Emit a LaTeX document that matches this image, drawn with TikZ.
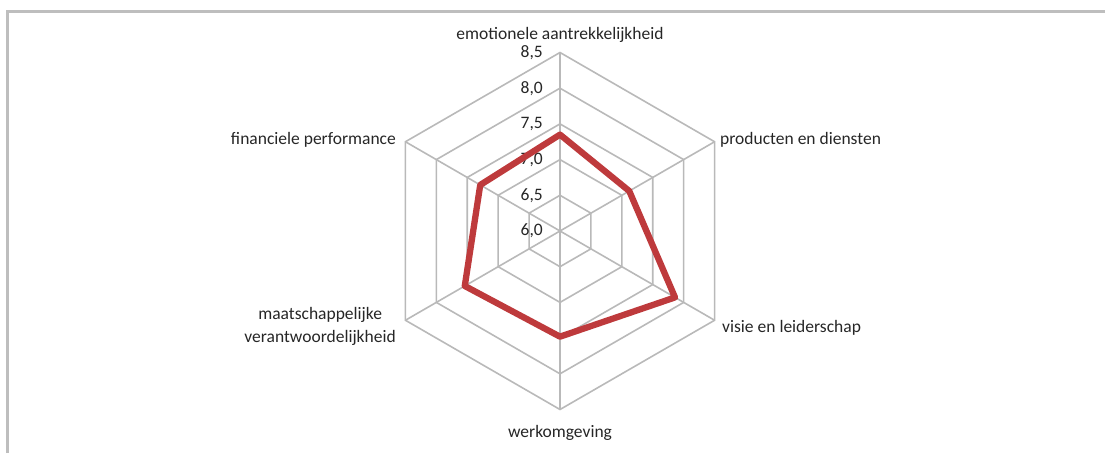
\documentclass[tikz,border=0pt]{standalone}
\usepackage{fontspec}
\setmainfont{Carlito}
\usetikzlibrary{positioning}

\definecolor{gridgray}{RGB}{185,185,185}
\definecolor{framegray}{RGB}{190,190,190}
\definecolor{datared}{RGB}{190,58,60}

\begin{document}
\begin{tikzpicture}[x=1pt,y=1pt,
	gridline/.style={draw=gridgray,line width=1.6pt},
	dataline/.style={draw=datared,line width=6.3pt,line join=round},
	axislabel/.style={font=\fontsize{17.5}{23}\selectfont,text=black!85,inner sep=0pt},
	ticklabel/.style={font=\fontsize{17.5}{21}\selectfont,text=black!85,inner sep=0pt,anchor=east}]
		\useasboundingbox (0,0) rectangle (1105,453);
		\draw[framegray,line width=3pt] (7.5,0) -- (7.5,441.5) -- (1105,441.5);

		\begin{scope}[shift={(560,222)}]
		\coordinate (c) at (0,0);
		% grid
		\foreach \r in {35.7,71.4,107.1,142.8,178.5}
			\draw[gridline] (90:\r) -- (30:\r) -- (-30:\r) -- (-90:\r) -- (-150:\r) -- (150:\r) -- cycle;
		\foreach \a/\n in {90/emo,30/prod,-30/visie,-90/werk,-150/maat,150/fin}{
			\coordinate (\n) at (\a:178.5);
			\draw[gridline] (c) -- (\n);
		}
		\foreach \k/\t in {0/{6,0},1/{6,5},2/{7,0},3/{7,5},4/{8,0},5/{8,5}}
			\node[ticklabel] (t_\k) at (-17,\k*35.7) {\t};

		% data (scale 6,0 .. 8,5)
		\foreach \a/\v/\n in {90/7.35/d_emo,30/7.12/d_prod,-30/7.86/d_visie,-90/7.48/d_werk,-150/7.54/d_maat,150/7.29/d_fin}
			\coordinate (\n) at (\a:{(\v-6)*71.4});
		\draw[dataline] (d_emo) -- (d_prod) -- (d_visie) -- (d_werk) -- (d_maat) -- (d_fin) -- cycle;
		\end{scope}

		\node[axislabel,anchor=base] (l_emo) at (560,413) {emotionele aantrekkelijkheid};
		\node[axislabel,anchor=base west] (l_prod) at (720,308) {producten en diensten};
		\node[axislabel,anchor=base west] (l_visie) at (722,121) {visie en leiderschap};
		\node[axislabel,anchor=base] (l_werk) at (560,16) {werkomgeving};
		\node[axislabel,anchor=east,align=center] (l_maat) at (396,127) {maatschappelijke\\verantwoordelijkheid};
		\node[axislabel,anchor=base east] (l_fin) at (396,308) {financiele performance};
\end{tikzpicture}
\end{document}
